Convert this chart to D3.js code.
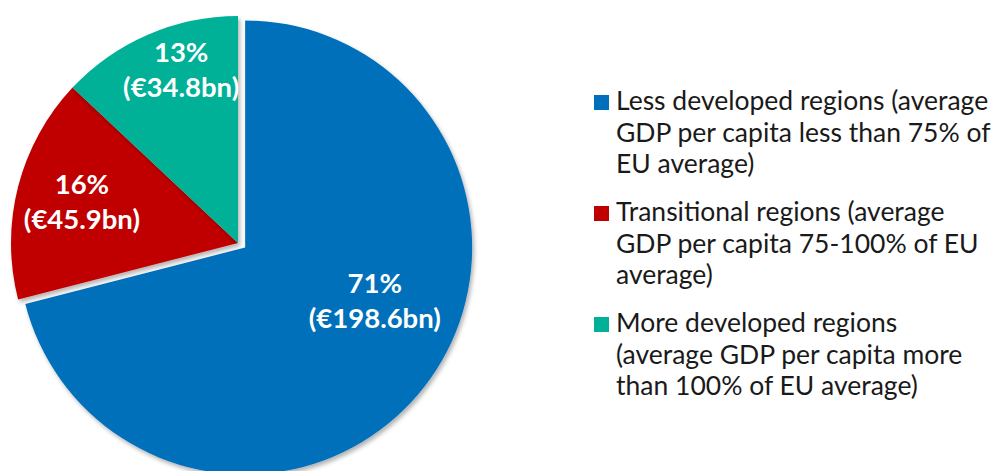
<!DOCTYPE html>
<html>
<head>
<meta charset="utf-8">
<script src="https://cdn.jsdelivr.net/npm/d3@7"></script>
<style>
  html, body { margin: 0; padding: 0; background: #fff; }
  svg { display: block; font-family: Lato, "Open Sans", sans-serif; }
</style>
</head>
<body>
<svg id="chart" width="997" height="471"></svg>
<script>
// Data
const categories = ["Less developed", "Transitional", "More developed"];
const shares = [71, 16, 13];
const amounts = ["€198.6bn", "€45.9bn", "€34.8bn"];
const legendLines = [
  ["Less developed regions (average", "GDP per capita less than 75% of", "EU average)"],
  ["Transitional regions (average", "GDP per capita 75-100% of EU", "average)"],
  ["More developed regions", "(average GDP per capita more", "than 100% of EU average)"]
];
const colors = ["#0070bb", "#c00000", "#00b097"];

const svg = d3.select("#chart");

// drop shadow
const defs = svg.append("defs");
defs
  .append("filter")
  .attr("id", "shadow")
  .attr("x", "-10%")
  .attr("y", "-10%")
  .attr("width", "120%")
  .attr("height", "120%")
  .append("feDropShadow")
  .attr("dx", 2)
  .attr("dy", 3)
  .attr("stdDeviation", 2)
  .attr("flood-color", "#000")
  .attr("flood-opacity", 0.3);

const pie = d3.pie().sort(null).value((d) => d)(shares);

const radius = 227;
const base = [242, 245];
// explode offsets per slice (blue pulled out down-right)
const explode = [4, 0, 0];
const nudge = [[0, 0], [-4, -2], [-4, -2]];

const arc = d3.arc().innerRadius(0).outerRadius(radius);

const slices = svg
  .append("g")
  .selectAll("g")
  .data(pie)
  .join("g")
  .attr("transform", (d, i) => {
    const mid = (d.startAngle + d.endAngle) / 2;
    const x = base[0] + Math.sin(mid) * explode[i] + nudge[i][0];
    const y = base[1] - Math.cos(mid) * explode[i] + nudge[i][1];
    return `translate(${x},${y})`;
  });

slices
  .append("path")
  .attr("d", arc)
  .attr("fill", (d, i) => colors[i])
  .attr("filter", "url(#shadow)");

// labels
const labelR = [0.62, 0.71, 0.8];
const labelTurn = [-0.26, 0, 0.09];
slices
  .append("text")
  .attr("text-anchor", "middle")
  .attr("fill", "#fff")
  .attr("font-weight", "bold")
  .attr("font-size", 27.5)
  .each(function (d, i) {
    const a = (d.startAngle + d.endAngle) / 2 + labelTurn[i];
    const r = radius * labelR[i];
    const x = Math.sin(a) * r;
    const y = -Math.cos(a) * r;
    const t = d3.select(this);
    t.append("tspan").attr("x", x).attr("y", y - 9).text(`${shares[i]}%`);
    t.append("tspan").attr("x", x).attr("y", y + 26).text(`(${amounts[i]})`);
  });

// Legend
const legend = svg
  .append("g")
  .attr("transform", "translate(594,0)")
  .selectAll("g")
  .data(legendLines)
  .join("g")
  .attr("transform", (d, i) => `translate(0,${110 + i * 111})`);

legend
  .append("rect")
  .attr("x", 0)
  .attr("y", -15)
  .attr("width", 15)
  .attr("height", 15)
  .attr("fill", (d, i) => colors[i]);

legend
  .append("text")
  .attr("fill", "#1a1a1a")
  .attr("font-size", 26.5)
  .selectAll("tspan")
  .data((d) => d)
  .join("tspan")
  .attr("x", 22)
  .attr("y", (d, j) => j * 31.5)
  .text((d) => d);
</script>
</body>
</html>
